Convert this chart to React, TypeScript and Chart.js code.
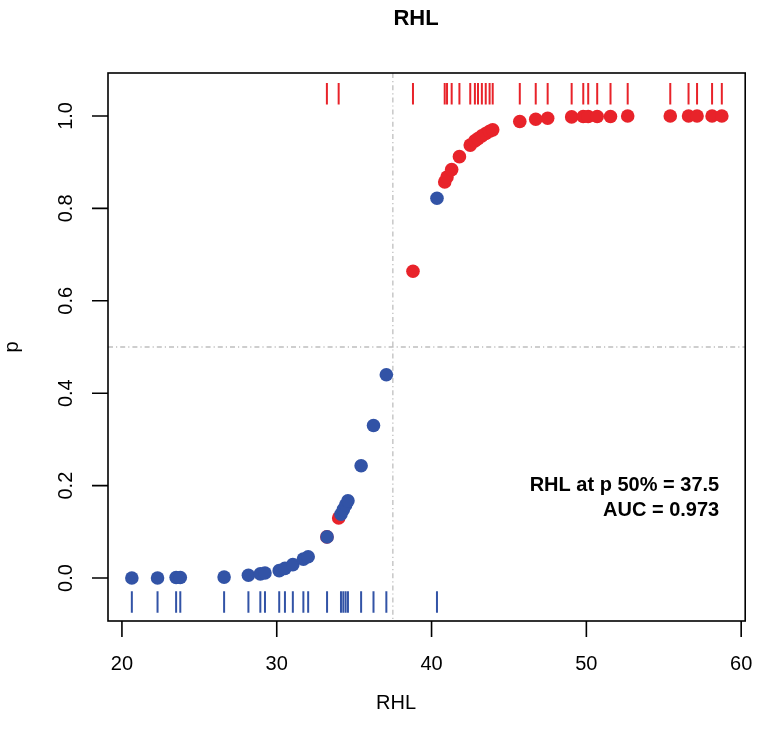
import React, { useEffect, useRef } from "react";
import { Chart, registerables } from "chart.js";

Chart.register(...registerables);

// ---- data ----
const chartTitle = "RHL";
const xTitle = "RHL";
const yTitle = "p";
const cutoffX = 37.5;
const cutoffP = 0.5;
const annotLines = ["RHL at p 50% = 37.5", "AUC = 0.973"];

const blueX = [20.64, 22.3, 23.5, 23.77, 26.6, 28.17, 28.94, 29.24, 30.16, 30.53, 31.04, 31.72, 32.03, 33.25, 34.15, 34.3, 34.45, 34.6, 35.45, 36.25, 37.08, 40.35];
const blueP = [0.0, 0.0, 0.001, 0.001, 0.002, 0.006, 0.009, 0.011, 0.016, 0.021, 0.029, 0.041, 0.046, 0.089, 0.138, 0.148, 0.158, 0.167, 0.243, 0.33, 0.44, 0.822];

const redX = [33.24, 34.0, 38.8, 40.85, 41.0, 41.3, 41.8, 42.5, 42.8, 43.0, 43.25, 43.5, 43.75, 43.95, 45.7, 46.73, 47.5, 49.05, 49.8, 50.12, 50.7, 51.56, 52.67, 55.42, 56.6, 57.15, 58.12, 58.75];
const redP = [0.089, 0.13, 0.664, 0.857, 0.868, 0.884, 0.912, 0.937, 0.946, 0.951, 0.957, 0.962, 0.967, 0.97, 0.988, 0.993, 0.995, 0.998, 0.999, 0.999, 0.999, 0.999, 1.0, 1.0, 1.0, 1.0, 1.0, 1.0];

const rugTopP = 1.048;
const rugBottomP = -0.052;

const xTicks = [20, 30, 40, 50, 60];
const yTicks = [0, 0.2, 0.4, 0.6, 0.8, 1.0];
const xTickLabels = ["20", "30", "40", "50", "60"];
const yTickLabels = ["0.0", "0.2", "0.4", "0.6", "0.8", "1.0"];

const xMin = 19.1;
const xMax = 60.26;
const yMin = -0.093;
const yMax = 1.093;

const BLUE = "#3253a6";
const RED = "#e8232a";
const FONT = '"Liberation Sans", Arial, sans-serif';

const rAxesPlugin = {
  id: "rAxes",
  beforeDatasetsDraw(chart: any) {
    const { ctx, chartArea: a, scales } = chart;
    const xs = scales.x, ys = scales.y;
    ctx.save();
    ctx.strokeStyle = "#bfbfbf";
    ctx.lineWidth = 1.3;
    ctx.setLineDash([5, 3, 1.2, 3]);
    const vx = xs.getPixelForValue(cutoffX);
    const hy = ys.getPixelForValue(cutoffP);
    ctx.beginPath();
    ctx.moveTo(vx, a.top);
    ctx.lineTo(vx, a.bottom);
    ctx.moveTo(a.left, hy);
    ctx.lineTo(a.right, hy);
    ctx.stroke();
    ctx.restore();
  },
  afterDraw(chart: any) {
    const { ctx, chartArea: a, scales } = chart;
    const xs = scales.x, ys = scales.y;
    ctx.save();
    ctx.setLineDash([]);
    ctx.strokeStyle = "#000";
    ctx.lineWidth = 1.6;
    ctx.strokeRect(a.left, a.top, a.right - a.left, a.bottom - a.top);
    const tickLen = 16;
    ctx.beginPath();
    xTicks.forEach((v) => {
      const px = xs.getPixelForValue(v);
      ctx.moveTo(px, a.bottom);
      ctx.lineTo(px, a.bottom + tickLen);
    });
    yTicks.forEach((v) => {
      const py = ys.getPixelForValue(v);
      ctx.moveTo(a.left, py);
      ctx.lineTo(a.left - tickLen, py);
    });
    ctx.stroke();

    ctx.fillStyle = "#000";
    ctx.font = `20px ${FONT}`;
    ctx.textAlign = "center";
    ctx.textBaseline = "middle";
    xTicks.forEach((v, i) => {
      ctx.fillText(xTickLabels[i], xs.getPixelForValue(v), a.bottom + 43);
    });
    yTicks.forEach((v, i) => {
      const py = ys.getPixelForValue(v);
      ctx.save();
      ctx.translate(a.left - 42, py);
      ctx.rotate(-Math.PI / 2);
      ctx.fillText(yTickLabels[i], 0, 0);
      ctx.restore();
    });
    ctx.fillText(xTitle, 396, a.bottom + 82);
    ctx.save();
    ctx.translate(a.left - 96, (a.top + a.bottom) / 2);
    ctx.rotate(-Math.PI / 2);
    ctx.fillText(yTitle, 0, 0);
    ctx.restore();
    ctx.font = `bold 22px ${FONT}`;
    ctx.fillText(chartTitle, 416, 19);
    ctx.font = `bold 20px ${FONT}`;
    ctx.textAlign = "right";
    ctx.fillText(annotLines[0], a.right - 26, 485);
    ctx.fillText(annotLines[1], a.right - 26, 510);
    ctx.restore();
  },
};

export default function App() {
  const ref = useRef<HTMLCanvasElement | null>(null);
  useEffect(() => {
    if (!ref.current) return;
    const chart = new Chart(ref.current, {
      type: "scatter",
      data: {
        datasets: [
          {
            label: "blue",
            data: blueX.map((x, i) => ({ x, y: blueP[i] })),
            backgroundColor: BLUE,
            borderWidth: 0,
            pointRadius: 6.8,
            order: 1,
          },
          {
            label: "red",
            data: redX.map((x, i) => ({ x, y: redP[i] })),
            backgroundColor: RED,
            borderWidth: 0,
            pointRadius: 6.8,
            order: 2,
          },
          {
            label: "rugBlue",
            data: blueX.map((x) => ({ x, y: rugBottomP })),
            pointStyle: "line",
            rotation: 90,
            pointRadius: 10.8,
            borderColor: BLUE,
            borderWidth: 2,
            order: 3,
          },
          {
            label: "rugRed",
            data: redX.map((x) => ({ x, y: rugTopP })),
            pointStyle: "line",
            rotation: 90,
            pointRadius: 10.8,
            borderColor: RED,
            borderWidth: 2,
            order: 3,
          },
        ],
      },
      options: {
        responsive: false,
        animation: false,
        devicePixelRatio: 1,
        events: [],
        layout: { padding: { left: 108, right: 10, top: 73, bottom: 115 } },
        plugins: { legend: { display: false }, tooltip: { enabled: false }, title: { display: false } },
        scales: {
          x: { type: "linear", display: false, min: xMin, max: xMax },
          y: { type: "linear", display: false, min: yMin, max: yMax },
        },
      },
      plugins: [rAxesPlugin],
    });
    return () => chart.destroy();
  }, []);
  return (
    <div style={{ position: "absolute", left: 0, top: 0, width: 758, height: 736, background: "#fff" }}>
      <canvas ref={ref} width={758} height={736} />
    </div>
  );
}
